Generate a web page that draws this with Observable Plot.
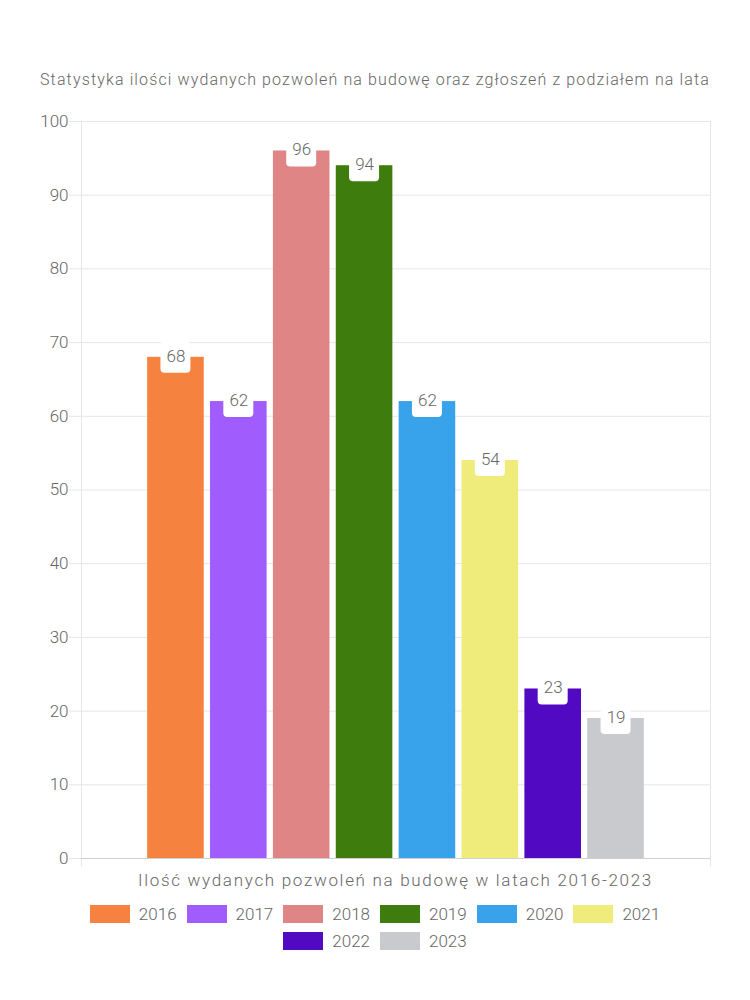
<!DOCTYPE html>
<html>
<head>
<meta charset="utf-8">
<script src="https://cdn.jsdelivr.net/npm/d3@7"></script>
<script src="https://cdn.jsdelivr.net/npm/@observablehq/plot@0.6"></script>
<style>
  html, body { margin: 0; padding: 0; background: #fff; }
  body { width: 750px; height: 1000px; position: relative; font-family: Roboto, "Open Sans", sans-serif; font-weight: 300; color: #666; }
  #title { position: absolute; top: 68px; left: 0; width: 750px; text-align: center; font-size: 16px; line-height: 24px; white-space: nowrap; }
  #chart { position: absolute; top: 100px; left: 0; }
  #xlabel { position: absolute; top: 868px; left: 81px; width: 629px; text-align: center; font-size: 17px; line-height: 24px; white-space: nowrap; }
  #legend { position: absolute; top: 900px; left: 0; width: 750px; }
  .row { display: flex; justify-content: center; height: 27px; align-items: center; }
  .item { display: flex; align-items: center; margin: 0 5px; font-size: 17px; }
  .sw { width: 40px; height: 18px; margin-right: 9px; }
</style>
</head>
<body>
<div id="title">Statystyka ilości wydanych pozwoleń na budowę oraz zgłoszeń z podziałem na lata</div>
<div id="chart"></div>
<div id="xlabel">Ilość wydanych pozwoleń na budowę w latach 2016-2023</div>
<div id="legend"></div>
<script>
const years = ["2016", "2017", "2018", "2019", "2020", "2021", "2022", "2023"];
const values = [68, 62, 96, 94, 62, 54, 23, 19];
const colors = ["#f5833f", "#a05cfd", "#e08585", "#3e7d0d", "#38a3eb", "#f0ec7c", "#5209c2", "#c9cacd"];
const yTicks = [0, 10, 20, 30, 40, 50, 60, 70, 80, 90, 100];
const legendRows = [["2016", "2017", "2018", "2019", "2020", "2021"], ["2022", "2023"]];

const data = years.map((year, i) => ({ year, value: values[i] }));
const gridColor = "#e6e6e6";

const chart = Plot.plot({
  width: 750,
  height: 770,
  marginTop: 21,
  marginBottom: 12,
  marginLeft: 81,
  marginRight: 40,
  style: { fontFamily: "Roboto, 'Open Sans', sans-serif", fontWeight: 300, color: "#666", background: "transparent" },
  x: { type: "band", domain: years, paddingInner: 0.1, paddingOuter: 0.05, round: false, insetLeft: 63, insetRight: 63, axis: null },
  y: { domain: [0, 100], ticks: yTicks, axis: null },
  color: { domain: years, range: colors },
  marks: [
    Plot.ruleY(yTicks.slice(1), { stroke: gridColor, strokeWidth: 1 }),
    Plot.frame({ anchor: "left", stroke: gridColor, insetBottom: -7 }),
    Plot.frame({ anchor: "right", stroke: gridColor, insetBottom: -7 }),
    Plot.axisY({ ticks: yTicks, tickSize: 12, tickPadding: 1, stroke: gridColor, fill: "#666", fontSize: 17, label: null }),
    Plot.barY(data, { x: "year", y: "value", fill: "year" }),
    Plot.ruleY([0], { stroke: "#d0d0d0", strokeWidth: 1 }),
    Plot.barY(data, { x: "year", y1: "value", y2: "value", insetTop: -16, insetBottom: -16, insetLeft: 13.3, insetRight: 13.3, fill: "white", rx: 4 }),
    Plot.text(data, { x: "year", y: "value", text: d => String(d.value), fill: "#666", fontSize: 17, dy: -1 })
  ]
});
document.getElementById("chart").appendChild(chart);

const legend = document.getElementById("legend");
legendRows.forEach(row => {
  const r = document.createElement("div");
  r.className = "row";
  row.forEach(y => {
    const it = document.createElement("div");
    it.className = "item";
    const sw = document.createElement("div");
    sw.className = "sw";
    sw.style.background = colors[years.indexOf(y)];
    const t = document.createElement("span");
    t.textContent = y;
    it.appendChild(sw);
    it.appendChild(t);
    r.appendChild(it);
  });
  legend.appendChild(r);
});

// stretch text blocks to the reference's widths
function stretch(id, target) {
  const el = document.getElementById(id);
  const span = document.createElement("span");
  span.textContent = el.textContent;
  el.textContent = "";
  el.appendChild(span);
  const w = span.getBoundingClientRect().width;
  const n = span.textContent.length;
  span.style.letterSpacing = ((target - w) / n) + "px";
}
stretch("title", 670);
stretch("xlabel", 515);
</script>
</body>
</html>
